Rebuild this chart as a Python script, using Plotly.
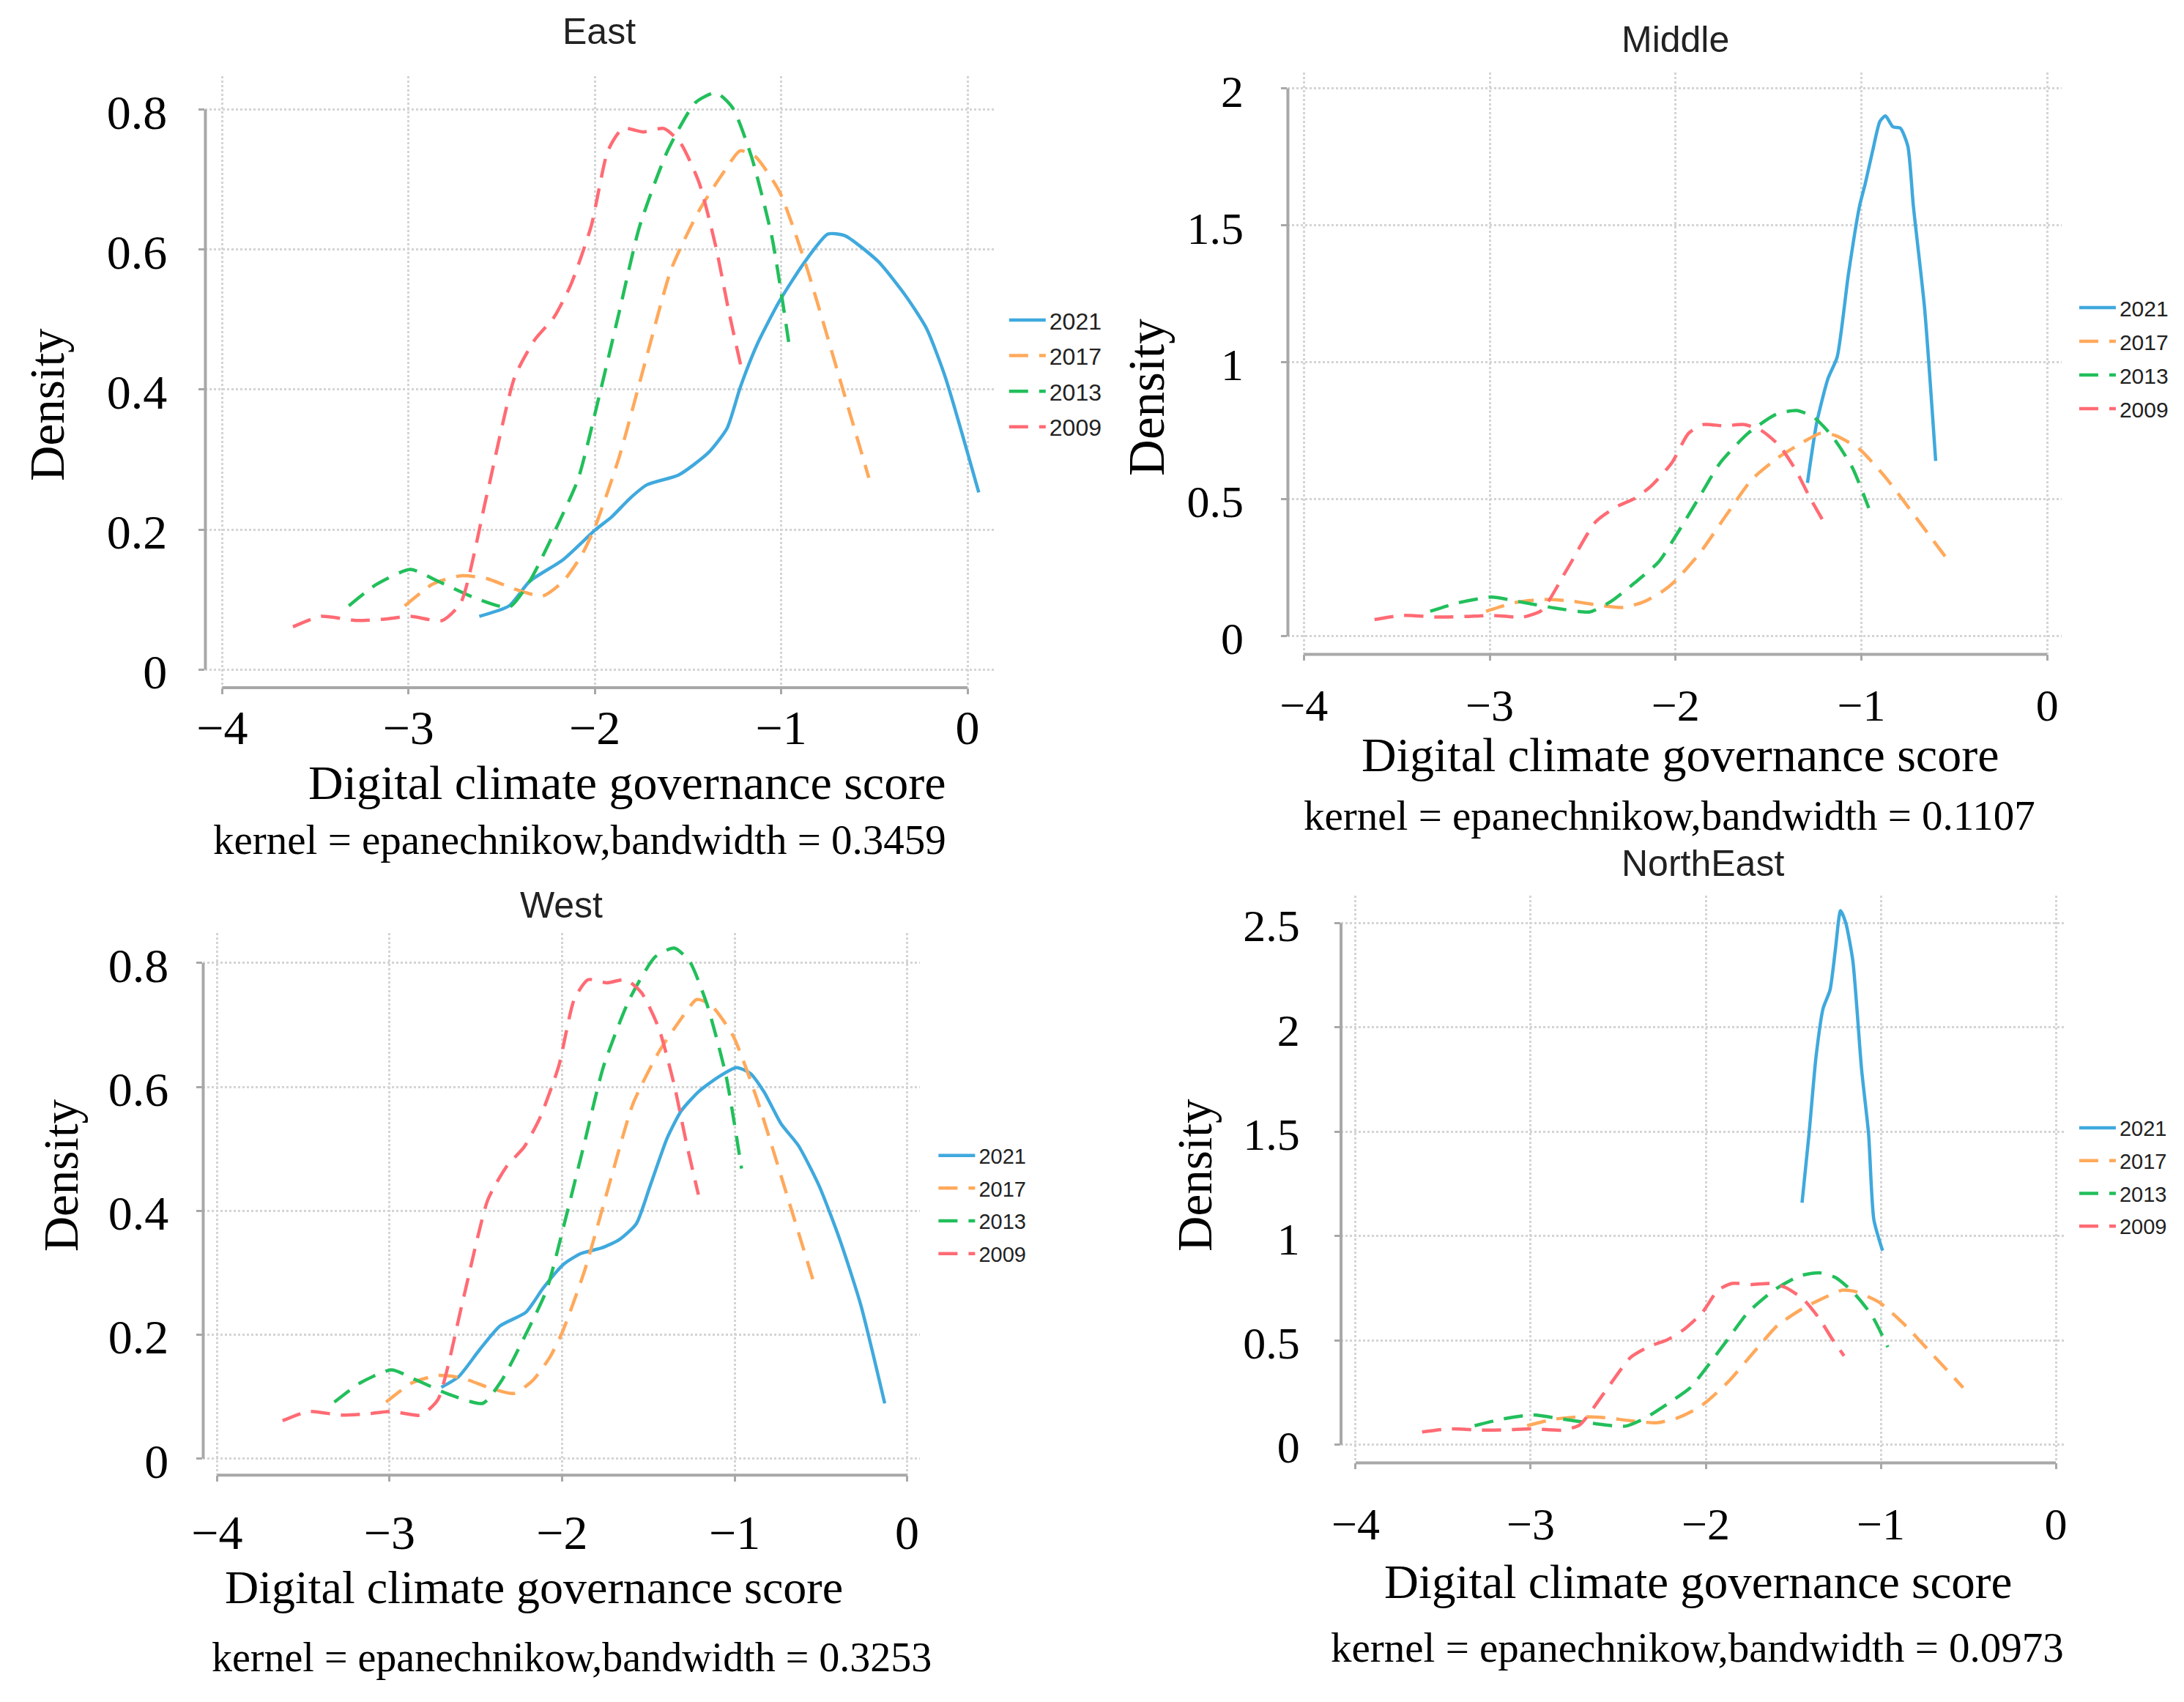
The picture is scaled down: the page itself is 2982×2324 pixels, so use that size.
import plotly.graph_objects as go

W, H = 2982, 2324

# ---------------- data ----------------
panel_names = ["East", "Middle", "West", "NorthEast"]
bandwidths = ["0.3459", "0.1107", "0.3253", "0.0973"]
years = ["2021", "2017", "2013", "2009"]

x_ticks = [-4, -3, -2, -1, 0]
x_tick_text = ["−4", "−3", "−2", "−1", "0"]

east_yticks = [0, 0.2, 0.4, 0.6, 0.8]
east_ytext = ["0", "0.2", "0.4", "0.6", "0.8"]
middle_yticks = [0, 0.5, 1, 1.5, 2]
middle_ytext = ["0", "0.5", "1", "1.5", "2"]
west_yticks = [0, 0.2, 0.4, 0.6, 0.8]
west_ytext = ["0", "0.2", "0.4", "0.6", "0.8"]
ne_yticks = [0, 0.5, 1, 1.5, 2, 2.5]
ne_ytext = ["0", "0.5", "1", "1.5", "2", "2.5"]

# curves of the earlier years (identical in every panel of the source figure)
x_2017 = [-3.02, -2.87, -2.72, -2.58, -2.43, -2.28, -2.17, -2.07, -2.00, -1.87,
          -1.72, -1.59, -1.44, -1.31, -1.22, -1.14, -1.01, -0.87, -0.68, -0.53]
y_2017 = [0.091, 0.122, 0.134, 0.130, 0.115, 0.105, 0.126, 0.164, 0.203, 0.303,
          0.449, 0.572, 0.656, 0.710, 0.741, 0.733, 0.683, 0.580, 0.410, 0.274]

x_2013 = [-3.32, -3.17, -2.99, -2.84, -2.65, -2.46, -2.35, -2.22, -2.09, -1.98,
          -1.87, -1.76, -1.61, -1.46, -1.35, -1.26, -1.16, -1.05, -0.96]
y_2013 = [0.091, 0.122, 0.143, 0.126, 0.103, 0.089, 0.126, 0.195, 0.272, 0.387,
          0.510, 0.633, 0.741, 0.810, 0.824, 0.802, 0.733, 0.618, 0.468]

x_2009 = [-3.62, -3.47, -3.28, -3.13, -2.99, -2.82, -2.72, -2.58, -2.43, -2.32,
          -2.22, -2.13, -2.02, -1.93, -1.85, -1.74, -1.63, -1.54, -1.44, -1.35,
          -1.28, -1.21]
y_2009 = [0.061, 0.076, 0.070, 0.072, 0.076, 0.070, 0.095, 0.249, 0.418, 0.472,
          0.503, 0.549, 0.633, 0.741, 0.773, 0.768, 0.773, 0.752, 0.695, 0.603,
          0.510, 0.426]

# 2021 curves, one per region
east_x_2021 = [-2.62, -2.46, -2.35, -2.17, -2.00, -1.91, -1.81, -1.72, -1.55, -1.39,
               -1.29, -1.22, -1.13, -1.01, -0.88, -0.75, -0.66, -0.48, -0.33, -0.22,
               -0.12, 0.06]
east_y_2021 = [0.076, 0.091, 0.126, 0.157, 0.199, 0.218, 0.245, 0.264, 0.278, 0.310,
               0.345, 0.403, 0.464, 0.526, 0.580, 0.622, 0.620, 0.583, 0.533, 0.487,
               0.418, 0.253]

middle_x_2021 = [-1.29, -1.24, -1.18, -1.13, -1.07, -1.01, -0.98, -0.94, -0.90, -0.87,
                 -0.83, -0.79, -0.75, -0.72, -0.66, -0.60]
middle_y_2021 = [0.56, 0.78, 0.94, 1.02, 1.32, 1.57, 1.65, 1.77, 1.88, 1.90,
                 1.86, 1.855, 1.79, 1.57, 1.20, 0.64]

west_x_2021 = [-2.70, -2.60, -2.48, -2.36, -2.21, -2.11, -1.99, -1.89, -1.77, -1.67,
               -1.57, -1.49, -1.39, -1.31, -1.21, -1.11, -0.99, -0.91, -0.83, -0.73,
               -0.63, -0.51, -0.39, -0.27, -0.13]
west_y_2021 = [0.115, 0.132, 0.175, 0.214, 0.236, 0.275, 0.314, 0.331, 0.340, 0.353,
               0.379, 0.440, 0.518, 0.561, 0.592, 0.613, 0.631, 0.622, 0.592, 0.540,
               0.505, 0.440, 0.353, 0.249, 0.089]

ne_x_2021 = [-1.45, -1.41, -1.37, -1.33, -1.29, -1.26, -1.23, -1.20, -1.16, -1.11,
             -1.07, -1.04, -0.99]
ne_y_2021 = [1.16, 1.49, 1.86, 2.09, 2.18, 2.37, 2.56, 2.50, 2.32, 1.80,
             1.49, 1.08, 0.93]

# ---------------- style / layout ----------------
colors = {"2021": "#3FA9DD", "2017": "#FFA95B", "2013": "#22BF5B", "2009": "#FF6B74"}
SERIF = "Liberation Serif, Times New Roman, serif"
NARROW = "Liberation Sans Narrow, Arial Narrow, Liberation Sans, Arial, sans-serif"
AXIS_GREY = "#a8a8a8"
GRID_GREY = "#d4d4d4"

# pixel geometry of each panel: plot box, pixel of x=-4 / x=0, pixel of y=0 / y=top tick
geom = [
    dict(left=258, right=1341, top=89, bottom=933, xm4=281, x0=1305, y0=908, ytop=135,
         tick=66, xsoff=-11, ysoff=30, xtitle=66, sub=57, dens=67, title=50, leg=32,
         title_xy=(799, 27), xt_xy=(837, 1064), sub_xy=(772, 1143), dens_xy=(40, 542),
         leg_xy=(1357, 398)),
    dict(left=1745, right=2808, top=84, bottom=887, xm4=1767, x0=2788, y0=862, ytop=106,
         tick=62, xsoff=7, ysoff=39, xtitle=66, sub=57, dens=69, title=50, leg=30,
         title_xy=(2277, 38), xt_xy=(2284, 1026), sub_xy=(2269, 1109), dens_xy=(1552, 532),
         leg_xy=(2827, 382)),
    dict(left=255, right=1239, top=1272, bottom=2020, xm4=274, x0=1222, y0=1997, ytop=1313,
         tick=66, xsoff=13, ysoff=25, xtitle=64, sub=56, dens=67, title=50, leg=29,
         title_xy=(747, 1233), xt_xy=(709, 2175), sub_xy=(761, 2271), dens_xy=(59, 1606),
         leg_xy=(1260, 1553)),
    dict(left=1818, right=2814, top=1220, bottom=2003, xm4=1838, x0=2800, y0=1978, ytop=1258,
         tick=62, xsoff=21, ysoff=35, xtitle=65, sub=57, dens=67, title=50, leg=29,
         title_xy=(2315, 1176), xt_xy=(2308, 2167), sub_xy=(2307, 2258), dens_xy=(1616, 1606),
         leg_xy=(2827, 1515)),
]

panel_ticks = [(east_yticks, east_ytext), (middle_yticks, middle_ytext),
               (west_yticks, west_ytext), (ne_yticks, ne_ytext)]
panel_2021 = [(east_x_2021, east_y_2021), (middle_x_2021, middle_y_2021),
              (west_x_2021, west_y_2021), (ne_x_2021, ne_y_2021)]
older = {"2017": (x_2017, y_2017), "2013": (x_2013, y_2013), "2009": (x_2009, y_2009)}

fig = go.Figure()
annotations = []
shapes = []

for i, name in enumerate(panel_names):
    g = geom[i]
    n = "" if i == 0 else str(i + 1)
    xa, ya = "x" + n, "y" + n
    legname = "legend" + n
    yt, ytt = panel_ticks[i]
    ymax = yt[-1]

    # scales from pixel geometry
    ppx = (g["x0"] - g["xm4"]) / (x_ticks[-1] - x_ticks[0])
    xr = [x_ticks[0] - (g["xm4"] - g["left"]) / ppx, x_ticks[-1] + (g["right"] - g["x0"]) / ppx]
    ppy = (g["y0"] - g["ytop"]) / ymax
    yr = [-(g["bottom"] - g["y0"]) / ppy, ymax + (g["ytop"] - g["top"]) / ppy]

    # traces
    series = {"2021": panel_2021[i]}
    series.update(older)
    for yr_name in years:
        xs, ys = series[yr_name]
        fig.add_trace(go.Scatter(
            x=xs, y=ys, mode="lines", name=yr_name,
            line=dict(color=colors[yr_name], width=4.5,
                      dash="solid" if yr_name == "2021" else "26px,15px",
                      shape="spline", smoothing=0.6),
            xaxis=xa, yaxis=ya, legend=legname, legendgroup=name + yr_name,
            showlegend=True,
        ))

    xkey = "xaxis" + n
    ykey = "yaxis" + n
    fig.layout[xkey] = dict(
        domain=[g["left"] / W, g["right"] / W], range=xr, anchor=ya,
        tickvals=x_ticks, ticktext=x_tick_text, ticks="outside", ticklen=8,
        tickwidth=3, tickcolor=AXIS_GREY, ticklabelstandoff=g["xsoff"],
        tickfont=dict(family=SERIF, size=g["tick"], color="black"),
        showgrid=True, gridcolor=GRID_GREY, gridwidth=3, griddash="dot",
        zeroline=False, showline=False, fixedrange=True,
    )
    fig.layout[ykey] = dict(
        domain=[(H - g["bottom"]) / H, (H - g["top"]) / H], range=yr, anchor=xa,
        tickvals=yt, ticktext=ytt, ticks="outside", ticklen=8,
        tickwidth=3, tickcolor=AXIS_GREY, ticklabelstandoff=g["ysoff"], ticklabelshift=3,
        tickfont=dict(family=SERIF, size=g["tick"], color="black"),
        showgrid=True, gridcolor=GRID_GREY, gridwidth=3, griddash="dot",
        zeroline=False, showline=False, fixedrange=True,
    )

    # Stata-style axis lines spanning the tick range
    shapes.append(dict(type="line", xref=xa + " domain", yref=ya, x0=0, x1=0, y0=yt[0], y1=ymax,
                       line=dict(color=AXIS_GREY, width=4), layer="above"))
    shapes.append(dict(type="line", xref=xa, yref=ya + " domain", x0=x_ticks[0], x1=x_ticks[-1],
                       y0=0, y1=0, line=dict(color=AXIS_GREY, width=4), layer="above"))

    # legend
    fig.layout[legname] = dict(
        x=g["leg_xy"][0] / W, y=(H - g["leg_xy"][1]) / H, xanchor="left", yanchor="top",
        bgcolor="rgba(0,0,0,0)", borderwidth=0, itemwidth=50, tracegroupgap=4,
        font=dict(family=NARROW, size=g["leg"], color="#222222"),
    )

    # texts
    annotations.append(dict(text=name, xref="paper", yref="paper",
                            x=g["title_xy"][0] / W, y=(H - g["title_xy"][1]) / H,
                            xanchor="center", yanchor="middle", showarrow=False,
                            font=dict(family=NARROW, size=g["title"], color="#222222")))
    annotations.append(dict(text="Digital climate governance score", xref="paper", yref="paper",
                            x=g["xt_xy"][0] / W, y=(H - g["xt_xy"][1]) / H,
                            xanchor="center", yanchor="middle", showarrow=False,
                            font=dict(family=SERIF, size=g["xtitle"], color="black")))
    annotations.append(dict(text="kernel = epanechnikow,bandwidth = " + bandwidths[i],
                            xref="paper", yref="paper",
                            x=g["sub_xy"][0] / W, y=(H - g["sub_xy"][1]) / H,
                            xanchor="center", yanchor="middle", showarrow=False,
                            font=dict(family=SERIF, size=g["sub"], color="black")))
    annotations.append(dict(text="Density", xref="paper", yref="paper", textangle=-90,
                            x=g["dens_xy"][0] / W, y=(H - g["dens_xy"][1]) / H,
                            xanchor="center", yanchor="middle", showarrow=False,
                            font=dict(family=SERIF, size=g["dens"], color="black")))

fig.update_layout(
    width=W, height=H, margin=dict(l=0, r=0, t=0, b=0),
    paper_bgcolor="white", plot_bgcolor="white",
    annotations=annotations, shapes=shapes,
)

fig.write_html("out.html")
